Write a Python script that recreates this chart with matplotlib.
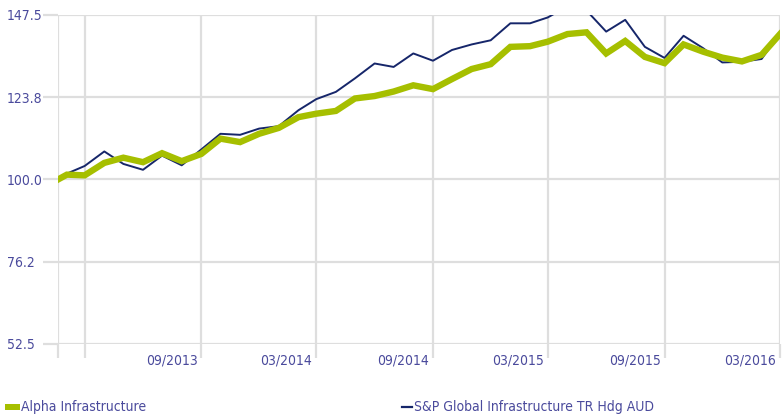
import pandas as pd
import matplotlib.pyplot as plt
from matplotlib.patches import Rectangle
from matplotlib.lines import Line2D
from matplotlib.transforms import ScaledTranslation

plt.rcParams['font.family'] = ['DejaVu Sans']
plt.rcParams['font.stretch'] = 'condensed'

# monthly points, first one is a part month
dates = [pd.Timestamp('2013-01-18')] + list(pd.date_range('2013-02-01', '2016-03-01', freq='MS'))

alpha = [100.0, 101.4, 101.2, 104.8, 106.3, 105.0, 107.6, 105.3, 107.4, 111.8,
         110.8, 113.2, 114.9, 118.0, 119.0, 119.8, 123.4, 124.1, 125.4, 127.2,
         126.1, 129.0, 131.9, 133.3, 138.3, 138.5, 139.8, 142.0, 142.5, 136.4,
         140.0, 135.4, 133.6, 139.0, 136.9, 135.2, 134.1, 136.0, 142.0]
bench = [100.0, 101.7, 103.9, 108.1, 104.5, 102.8, 106.9, 104.1, 108.7, 113.2,
         112.9, 114.7, 115.4, 120.0, 123.2, 125.3, 129.2, 133.5, 132.5, 136.4,
         134.3, 137.4, 139.0, 140.2, 145.1, 145.1, 146.8, 150.0, 148.8, 142.7,
         146.1, 138.3, 135.1, 141.5, 137.9, 133.8, 134.0, 134.8, 142.2]

yticks = [52.5, 76.25, 100.0, 123.75, 147.5]
xtick_dates = ['2013-01-18', '2013-03-01', '2013-09-01', '2014-03-01', '2014-09-01',
               '2015-03-01', '2015-09-01', '2016-03-01']
xtick_labels = ['', '', '09/2013', '03/2014', '09/2014', '03/2015', '09/2015', '03/2016']

green = '#a6bf00'
navy = '#16266a'
txt = '#4a4a9c'
grid = '#dedede'
fs = 10

fig = plt.figure(figsize=(7.83, 4.18), dpi=100)
ax = fig.add_axes([58 / 783, 1 - 344 / 418, 722 / 783, 329 / 418])

ax.plot(dates, bench, color=navy, lw=1.4, zorder=3)
ax.plot(dates, alpha, color=green, lw=4.6, zorder=4, solid_joinstyle='miter')

ax.set_ylim(52.5, 147.5)
ax.set_xlim(pd.Timestamp('2013-01-18'), pd.Timestamp('2016-03-01'))
ax.set_yticks(yticks)
ax.set_yticklabels([f'{v:.1f}' for v in yticks])
ax.set_xticks(pd.to_datetime(xtick_dates))
ax.set_xticklabels(xtick_labels)

ax.grid(True, color=grid, lw=1.6)
ax.set_axisbelow(True)
for s in ax.spines.values():
    s.set_visible(False)

ax.tick_params(axis='y', length=11, width=1.6, color=grid, labelcolor=txt,
               labelsize=fs, pad=26)
ax.tick_params(axis='x', length=10, width=1.6, color=grid, labelcolor=txt,
               labelsize=fs, pad=-3)
for lab in ax.get_yticklabels():
    lab.set_horizontalalignment('left')
shift = ScaledTranslation(-4 / 100, 0, fig.dpi_scale_trans)
for lab in ax.get_xticklabels():
    lab.set_horizontalalignment('right')
    lab.set_transform(lab.get_transform() + shift)

# legend
fig.add_artist(Rectangle((5 / 783, 1 - 410 / 418), 15 / 783, 6 / 418,
                         transform=fig.transFigure, color=green, lw=0))
fig.text(21 / 783, 1 - 407 / 418, 'Alpha Infrastructure', color=txt,
         fontsize=fs, va='center', ha='left')
fig.add_artist(Line2D([402 / 783, 412 / 783], [1 - 407 / 418, 1 - 407 / 418],
                      transform=fig.transFigure, color=navy, lw=1.6))
fig.text(414 / 783, 1 - 407 / 418, 'S&P Global Infrastructure TR Hdg AUD', color=txt,
         fontsize=fs, va='center', ha='left')

fig.savefig('out.png', dpi=100)
